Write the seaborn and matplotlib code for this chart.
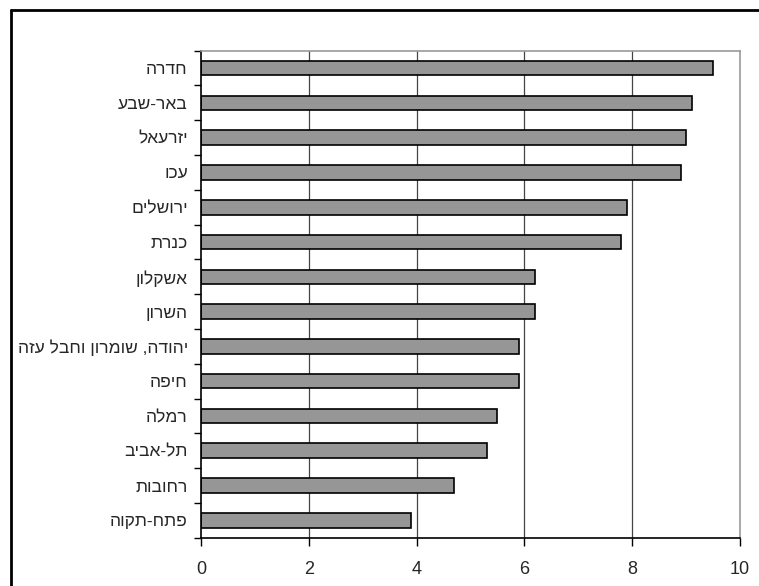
import matplotlib
matplotlib.use('Agg')
import matplotlib.pyplot as plt
import seaborn as sns
import pandas as pd
from matplotlib.lines import Line2D

sns.set_style('white')
plt.rcParams['font.family'] = ['Liberation Sans', 'DejaVu Sans']

# districts, top to bottom
districts = ['חדרה', 'באר-שבע', 'יזרעאל', 'עכו', 'ירושלים', 'כנרת', 'אשקלון',
             'השרון', 'יהודה, שומרון וחבל עזה', 'חיפה', 'רמלה', 'תל-אביב',
             'רחובות', 'פתח-תקוה']
values = [9.5, 9.1, 9.0, 8.9, 7.9, 7.8, 6.2, 6.2, 5.9, 5.9, 5.5, 5.3, 4.7, 3.9]
x_ticks = [0, 2, 4, 6, 8, 10]


def visual(s):
    # matplotlib lays text out left to right, so put the Hebrew in display order
    return s[::-1]


df = pd.DataFrame({'district': districts, 'value': values})

fig = plt.figure(figsize=(7.59, 5.86), dpi=100)
ax = fig.add_axes([0.2648, 0.0824, 0.975 - 0.2648, 0.9135 - 0.0824])

sns.barplot(data=df, x='value', y='district', orient='h', color='#969696',
            edgecolor='black', linewidth=1.2, width=0.42, saturation=1, ax=ax)

ax.set_xlim(0, 10)
ax.set_ylim(len(districts) - 0.5, -0.5)
ax.set_xticks(x_ticks)
ax.set_xticklabels([str(t) for t in x_ticks], fontsize=13)
ax.set_yticks(range(len(districts)))
ax.set_yticklabels([visual(d) for d in districts], fontsize=12.5)
ax.set_yticks([i - 0.5 for i in range(len(districts) + 1)], minor=True)
ax.tick_params(axis='y', which='major', length=0, pad=9.5)
ax.tick_params(axis='y', which='minor', length=5, width=1, color='black', direction='out', left=True)
ax.tick_params(axis='x', length=6, width=1, color='black', direction='out', bottom=True, pad=11)
ax.set_xlabel('')
ax.set_ylabel('')

ax.grid(False)
for t in x_ticks[1:-1]:
    ax.axvline(t, color='#444444', linewidth=0.9, zorder=0)
ax.set_axisbelow(True)

ax.spines['left'].set_color('black')
ax.spines['bottom'].set_color('black')
ax.spines['left'].set_linewidth(1.2)
ax.spines['bottom'].set_linewidth(1.2)
ax.spines['top'].set_color('#999999')
ax.spines['right'].set_color('#999999')
ax.spines['top'].set_linewidth(1.2)
ax.spines['right'].set_linewidth(1.2)

# outer frame of the chart area (cut off at the right and bottom)
fx, fy = 10.5 / 759, 1 - 9.5 / 586
fig.add_artist(Line2D([fx, fx], [0, fy], transform=fig.transFigure, color='black', linewidth=2))
fig.add_artist(Line2D([fx, 1], [fy, fy], transform=fig.transFigure, color='black', linewidth=2))

fig.savefig('out.png', dpi=100)
